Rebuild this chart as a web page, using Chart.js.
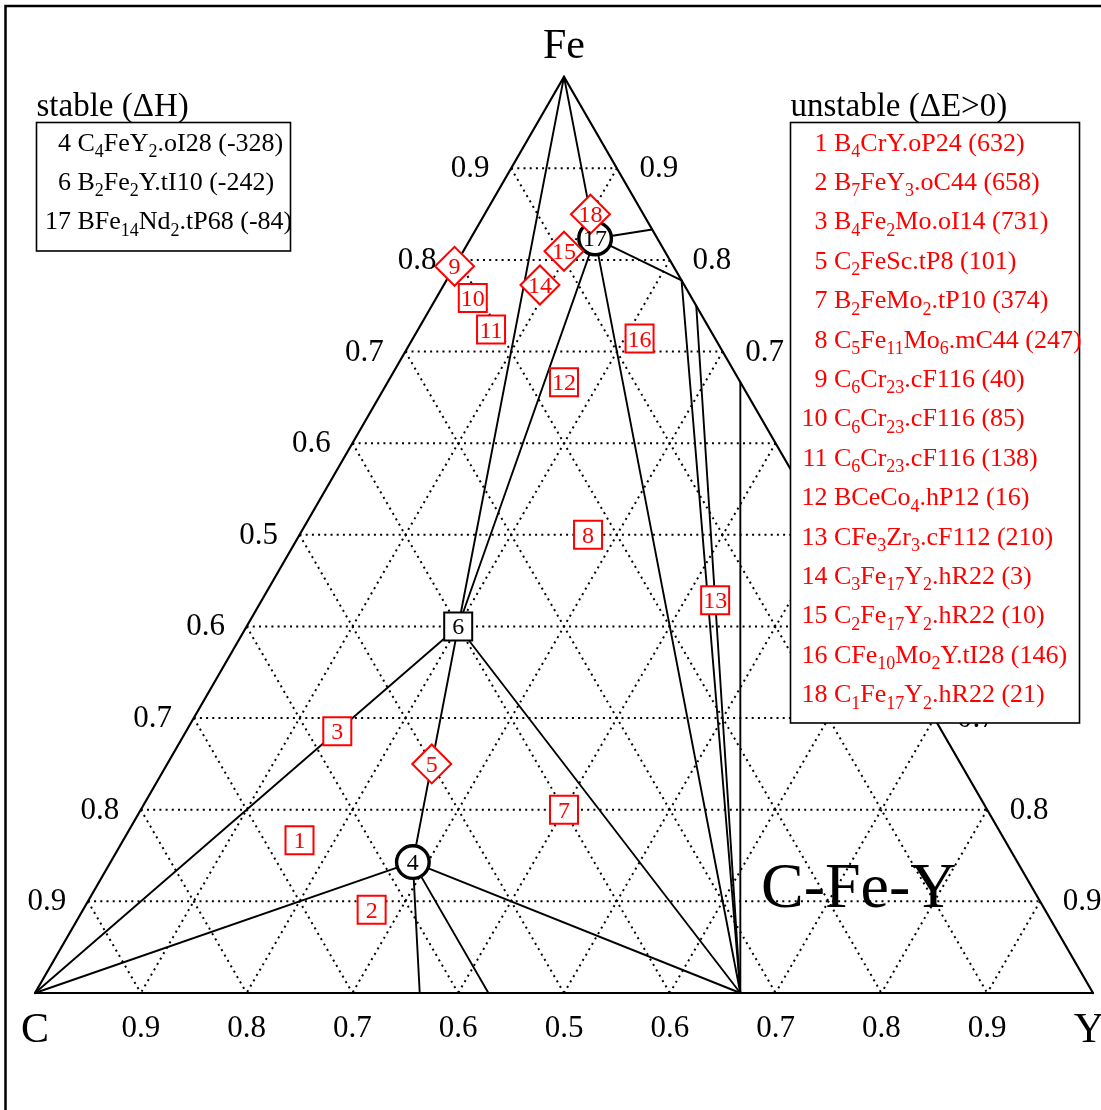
<!DOCTYPE html>
<html>
<head>
<meta charset="utf-8">
<title>C-Fe-Y</title>
<script src="https://cdn.jsdelivr.net/npm/chart.js@4.4.1/dist/chart.umd.min.js"></script>
<style>
  html, body { margin: 0; padding: 0; background: #fff; }
  #wrap { width: 1101px; height: 1110px; }
</style>
</head>
<body>
<div id="wrap"><canvas id="ternary" width="1101" height="1110"></canvas></div>
<script>
    // atom counts are always given as [C, Fe, Y]

    // stable compounds (formation enthalpy, meV/atom)
    const stableIds = [4, 6, 17];
    const stableProto = ['C_4FeY_2.oI28', 'B_2Fe_2Y.tI10', 'BFe_14Nd_2.tP68'];
    const stableDH = [-328, -242, -84];
    const stableAtoms = [[4, 1, 2], [2, 2, 1], [1, 14, 2]];

    // unstable compounds (distance above hull, meV/atom)
    const unstableIds = [1, 2, 3, 5, 7, 8, 9, 10, 11, 12, 13, 14, 15, 16, 18];
    const unstableProto = ['B_4CrY.oP24', 'B_7FeY_3.oC44', 'B_4Fe_2Mo.oI14', 'C_2FeSc.tP8',
        'B_2FeMo_2.tP10', 'C_5Fe_11Mo_6.mC44', 'C_6Cr_23.cF116', 'C_6Cr_23.cF116',
        'C_6Cr_23.cF116', 'BCeCo_4.hP12', 'CFe_3Zr_3.cF112', 'C_3Fe_17Y_2.hR22',
        'C_2Fe_17Y_2.hR22', 'CFe_10Mo_2Y.tI28', 'C_1Fe_17Y_2.hR22'];
    const unstableDE = [632, 658, 731, 101, 374, 247, 40, 85, 138, 16, 210, 3, 10, 146, 21];
    const unstableAtoms = [[4, 1, 1], [7, 1, 3], [4, 2, 1], [2, 1, 1], [2, 1, 2], [5, 11, 6],
        [6, 23, 0], [6, 22, 1], [6, 21, 2], [1, 4, 1], [1, 3, 3], [3, 17, 2], [2, 17, 2],
        [1, 10, 3], [1, 17, 2]];
    const diamondIds = [5, 9, 14, 15, 18];

    // corners and binary phases on the hull
    const vertexNames = ['C', 'Fe', 'Y', 'Fe5Y', 'Fe7Y2', 'Fe3Y', 'Fe2Y', 'C7Y4', 'C4Y3', 'CY2'];
    const vertexAtoms = [[1, 0, 0], [0, 1, 0], [0, 0, 1], [0, 5, 1], [0, 7, 2], [0, 3, 1],
        [0, 2, 1], [7, 0, 4], [4, 0, 3], [1, 0, 2]];

    // triangle edges, then tie lines of the hull
    const edges = [['C', 'Fe'], ['Fe', 'Y'], ['C', 'Y']];
    const tieLines = [
        ['Fe', '6'], ['Fe', '17'], ['17', 'Fe5Y'], ['17', 'Fe7Y2'], ['17', 'CY2'], ['17', '6'],
        ['Fe7Y2', 'CY2'], ['Fe3Y', 'CY2'], ['Fe2Y', 'CY2'],
        ['6', 'C'], ['6', '4'], ['6', 'CY2'],
        ['4', 'C'], ['4', 'CY2'], ['4', 'C7Y4'], ['4', 'C4Y3']
    ];

    // composition grid and the numbers written along each edge
    const gridLevels = [0.1, 0.2, 0.3, 0.4, 0.5, 0.6, 0.7, 0.8, 0.9];
    const tickText = ['0.9', '0.8', '0.7', '0.6', '0.5', '0.6', '0.7', '0.8', '0.9'];

    const SERIF = '"Liberation Serif", "DejaVu Serif", serif';
    const H = Math.sqrt(3) / 2;

    // fractions -> cartesian (C at origin, Y at (1,0), Fe on top)
    function fracXY(c, fe, y) {
        return { x: y + fe / 2, y: fe * H };
    }
    function atomsXY(a) {
        const n = a[0] + a[1] + a[2];
        return fracXY(a[0] / n, a[1] / n, a[2] / n);
    }

    const named = {};
    vertexNames.forEach((n, i) => { named[n] = atomsXY(vertexAtoms[i]); });
    stableIds.forEach((id, i) => { named[String(id)] = atomsXY(stableAtoms[i]); });

    function segment(p, q, width, dash) {
        return {
            data: [p, q],
            showLine: true,
            borderColor: '#000',
            borderWidth: width,
            borderDash: dash || [],
            borderCapStyle: dash ? 'butt' : 'round',
            pointRadius: 0,
            order: dash ? 3 : 2
        };
    }

    const datasets = [];

    // dotted grid: lines of constant Fe, C and Y
    const DOTS = [2, 4.2];
    gridLevels.forEach(k => {
        datasets.push(segment(fracXY(1 - k, k, 0), fracXY(0, k, 1 - k), 2, DOTS));
        datasets.push(segment(fracXY(k, 1 - k, 0), fracXY(k, 0, 1 - k), 2, DOTS));
        datasets.push(segment(fracXY(0, 1 - k, k), fracXY(1 - k, 0, k), 2, DOTS));
    });

    edges.forEach(e => datasets.push(segment(named[e[0]], named[e[1]], 2.2)));
    tieLines.forEach(e => datasets.push(segment(named[e[0]], named[e[1]], 1.9)));

    // markers
    const sqIds = unstableIds.filter(id => !diamondIds.includes(id));
    const dmIds = unstableIds.filter(id => diamondIds.includes(id));
    const unstablePt = id => atomsXY(unstableAtoms[unstableIds.indexOf(id)]);

    datasets.push({
        labelIds: sqIds, labelColor: '#ff0000',
        data: sqIds.map(unstablePt),
        pointStyle: 'rect', pointRadius: 19.8, pointBorderWidth: 2,
        pointBorderColor: '#ff0000', pointBackgroundColor: '#fff', order: 0
    });
    datasets.push({
        labelIds: dmIds, labelColor: '#ff0000',
        data: dmIds.map(unstablePt),
        pointStyle: 'rectRot', pointRadius: 19.5, pointBorderWidth: 2,
        pointBorderColor: '#ff0000', pointBackgroundColor: '#fff', order: 0
    });
    datasets.push({
        labelIds: [4, 17], labelColor: '#000',
        data: [named['4'], named['17']],
        pointStyle: 'circle', pointRadius: 16.3, pointBorderWidth: 3.4,
        pointBorderColor: '#000', pointBackgroundColor: '#fff', order: 0
    });
    datasets.push({
        labelIds: [6], labelColor: '#000',
        data: [named['6']],
        pointStyle: 'rect', pointRadius: 19.8, pointBorderWidth: 2,
        pointBorderColor: '#000', pointBackgroundColor: '#fff', order: 0
    });

    // text with _digits written as subscripts
    function drawFormula(ctx, text, x, y, size, color) {
        const parts = text.split(/_(\d+)/);
        ctx.fillStyle = color;
        ctx.textAlign = 'left';
        ctx.textBaseline = 'alphabetic';
        parts.forEach((s, i) => {
            if (i % 2) {
                ctx.font = Math.round(size * 0.7) + 'px ' + SERIF;
                ctx.fillText(s, x, y + size * 0.25);
            } else {
                ctx.font = size + 'px ' + SERIF;
                ctx.fillText(s, x, y);
            }
            x += ctx.measureText(s).width;
        });
    }

    function drawLegend(ctx, title, box, formulaX, rows) {
        ctx.fillStyle = '#fff';
        ctx.fillRect(box[0], box[1], box[2], box[3]);
        ctx.strokeStyle = '#000';
        ctx.lineWidth = 1.6;
        ctx.strokeRect(box[0], box[1], box[2], box[3]);
        ctx.fillStyle = '#000';
        ctx.font = '33px ' + SERIF;
        ctx.textAlign = 'left';
        ctx.textBaseline = 'alphabetic';
        ctx.fillText(title, box[0], box[1] - 7);
        rows.forEach((r, i) => {
            const yb = box[1] + 28 + i * 39.4;
            ctx.font = '26px ' + SERIF;
            ctx.fillStyle = r.color;
            ctx.textAlign = 'right';
            ctx.fillText(String(r.id), formulaX - 6.5, yb);
            drawFormula(ctx, r.proto + ' (' + r.val + ')', formulaX, yb, 26, r.color);
        });
    }

    const overlay = {
        id: 'overlay',
        afterDatasetsDraw(chart) {
            const ctx = chart.ctx;
            ctx.save();
            ctx.font = '24px ' + SERIF;
            ctx.textAlign = 'center';
            ctx.textBaseline = 'alphabetic';
            chart.data.datasets.forEach((ds, i) => {
                if (!ds.labelIds) return;
                ctx.fillStyle = ds.labelColor;
                chart.getDatasetMeta(i).data.forEach((el, j) => {
                    ctx.fillText(String(ds.labelIds[j]), el.x, el.y + 8);
                });
            });
            ctx.restore();
        },
        afterDraw(chart) {
            const ctx = chart.ctx;
            const sx = chart.scales.x, sy = chart.scales.y;
            const px = p => ({ x: sx.getPixelForValue(p.x), y: sy.getPixelForValue(p.y) });
            ctx.save();

            // edge numbers
            ctx.fillStyle = '#000';
            ctx.font = '31px ' + SERIF;
            ctx.textAlign = 'center';
            ctx.textBaseline = 'alphabetic';
            gridLevels.forEach((k, i) => {
                const l = px(fracXY(1 - k, k, 0));
                ctx.fillText(tickText[i], l.x - 41, l.y + 9);
                const r = px(fracXY(0, k, 1 - k));
                ctx.fillText(tickText[i], r.x + 42, r.y + 9);
                const b = px(fracXY(1 - k, 0, k));
                ctx.fillText(tickText[i], b.x, b.y + 44);
            });

            // corner elements
            ctx.font = '42px ' + SERIF;
            const cFe = px(named.Fe), cC = px(named.C), cY = px(named.Y);
            ctx.fillText('Fe', cFe.x, cFe.y - 19);
            ctx.fillText('C', cC.x, cC.y + 49);
            ctx.fillText('Y', cY.x - 4, cY.y + 49);

            // system name
            ctx.font = '64px ' + SERIF;
            ctx.textAlign = 'left';
            ctx.fillText('C-Fe-Y', 761, 907);

            drawLegend(ctx, 'stable (\u0394H)', [36.5, 122.5, 254, 128.5], 77.5,
                stableIds.map((id, i) => ({ id, proto: stableProto[i], val: stableDH[i], color: '#000' })));
            drawLegend(ctx, 'unstable (\u0394E>0)', [790.5, 122.5, 289, 600.5], 834,
                unstableIds.map((id, i) => ({ id, proto: unstableProto[i], val: unstableDE[i], color: '#ff0000' })));

            // outer frame
            ctx.strokeStyle = '#000';
            ctx.lineWidth = 2.5;
            ctx.strokeRect(5.5, 6, 1300, 1300);
            ctx.restore();
        }
    };

    new Chart(document.getElementById('ternary'), {
        type: 'scatter',
        data: { datasets: datasets },
        options: {
            responsive: false,
            animation: false,
            devicePixelRatio: 1,
            events: [],
            layout: { padding: 0, autoPadding: false },
            scales: {
                x: { type: 'linear', display: false, min: -35 / 1058, max: 1066 / 1058 },
                y: { type: 'linear', display: false, min: -117 / 1058, max: 993 / 1058 }
            },
            plugins: {
                legend: { display: false },
                tooltip: { enabled: false }
            }
        },
        plugins: [overlay]
    });
</script>
</body>
</html>
